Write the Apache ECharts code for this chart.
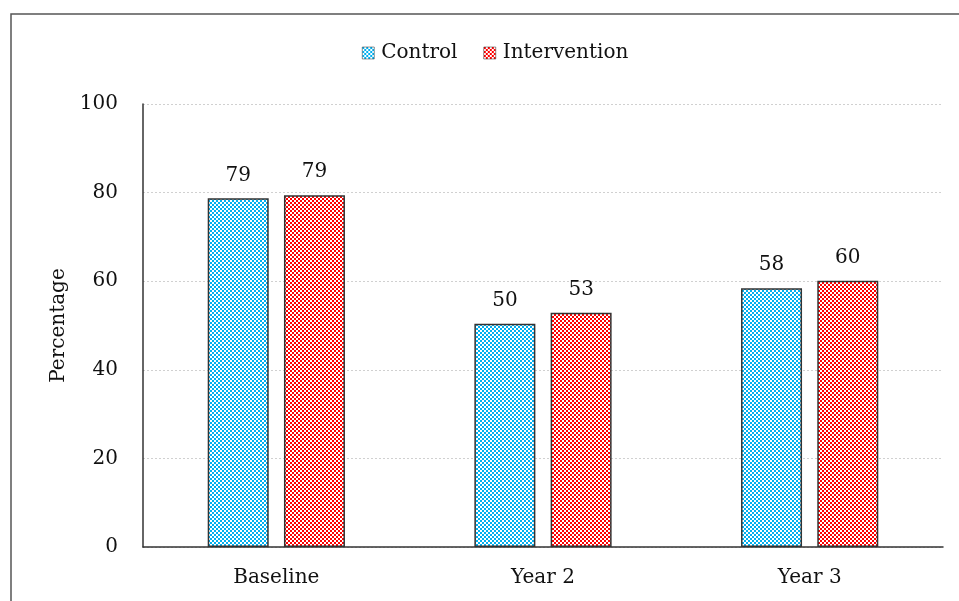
<!DOCTYPE html>
<html>
<head>
<meta charset="utf-8">
<script src="https://cdn.jsdelivr.net/npm/echarts@6/dist/echarts.min.js"></script>
<style>
  html, body { margin: 0; padding: 0; background: #fff; }
  #chart { width: 959px; height: 601px; }
</style>
</head>
<body>
<div id="chart"></div>
<script>
// Share of participants (%) by survey wave
const categories = ['Baseline', 'Year 2', 'Year 3'];
const controlValues = [78.7, 50.4, 58.4];
const interventionValues = [79.4, 52.9, 60.1];
const yTicks = [0, 20, 40, 60, 80, 100];

const FONT = 'DejaVu Serif';
const FS = 20;

// Small checkerboard tile used as a repeating fill
function checker(color) {
  const c = document.createElement('canvas');
  c.width = 4; c.height = 4;
  const ctx = c.getContext('2d');
  ctx.fillStyle = '#ffffff';
  ctx.fillRect(0, 0, 4, 4);
  ctx.fillStyle = color;
  ctx.fillRect(0, 0, 2, 2);
  ctx.fillRect(2, 2, 2, 2);
  return { image: c, repeat: 'repeat' };
}

const blueFill = checker('#00b0f0');
const redFill = checker('#ff0000');

const chart = echarts.init(document.getElementById('chart'), null, { renderer: 'canvas' });

const labelCfg = {
  show: true,
  position: 'top',
  distance: 13,
  fontFamily: FONT,
  fontSize: FS,
  color: '#111',
  formatter: p => Math.round(p.value)
};

chart.setOption({
  animation: false,
  backgroundColor: '#ffffff',
  graphic: [{
    type: 'rect',
    shape: { x: 11, y: 14, width: 1000, height: 700 },
    style: { fill: 'none', stroke: '#555', lineWidth: 1.5 },
    z: -1
  }],
  legend: {
    top: 38,
    left: 357,
    itemWidth: 12,
    itemHeight: 12,
    itemGap: 26,
    textStyle: { fontFamily: FONT, fontSize: FS, color: '#111', padding: [0, 0, 0, 2] },
    data: [
      { name: 'Control', icon: 'rect', itemStyle: { color: blueFill, borderColor: '#333', borderWidth: 0.5 } },
      { name: 'Intervention', icon: 'rect', itemStyle: { color: redFill, borderColor: '#333', borderWidth: 0.5 } }
    ]
  },
  grid: { left: 143, right: 16, top: 104, bottom: 54, containLabel: false },
  xAxis: {
    type: 'category',
    data: categories,
    axisLine: { lineStyle: { color: '#333', width: 1.5 } },
    axisTick: { show: false },
    axisLabel: { fontFamily: FONT, fontSize: FS, color: '#111', margin: 21 }
  },
  yAxis: {
    type: 'value',
    min: yTicks[0],
    max: yTicks[yTicks.length - 1],
    interval: yTicks[1] - yTicks[0],
    name: 'Percentage',
    nameLocation: 'middle',
    nameGap: 73,
    nameRotate: 90,
    nameTextStyle: { fontFamily: FONT, fontSize: FS, color: '#111' },
    axisLine: { show: true, lineStyle: { color: '#333', width: 1.5 } },
    axisTick: { show: false },
    axisLabel: { fontFamily: FONT, fontSize: FS, color: '#111', margin: 25 },
    splitLine: { lineStyle: { color: '#d0d0d0', type: [2, 2], width: 1 } }
  },
  series: [
    {
      name: 'Control',
      type: 'bar',
      data: controlValues,
      barWidth: 61,
      barGap: '25%',
      itemStyle: { color: blueFill, borderColor: '#333', borderWidth: 1.5 },
      label: labelCfg
    },
    {
      name: 'Intervention',
      type: 'bar',
      data: interventionValues,
      barWidth: 61,
      itemStyle: { color: redFill, borderColor: '#333', borderWidth: 1.5 },
      label: labelCfg
    }
  ]
});
</script>
</body>
</html>
